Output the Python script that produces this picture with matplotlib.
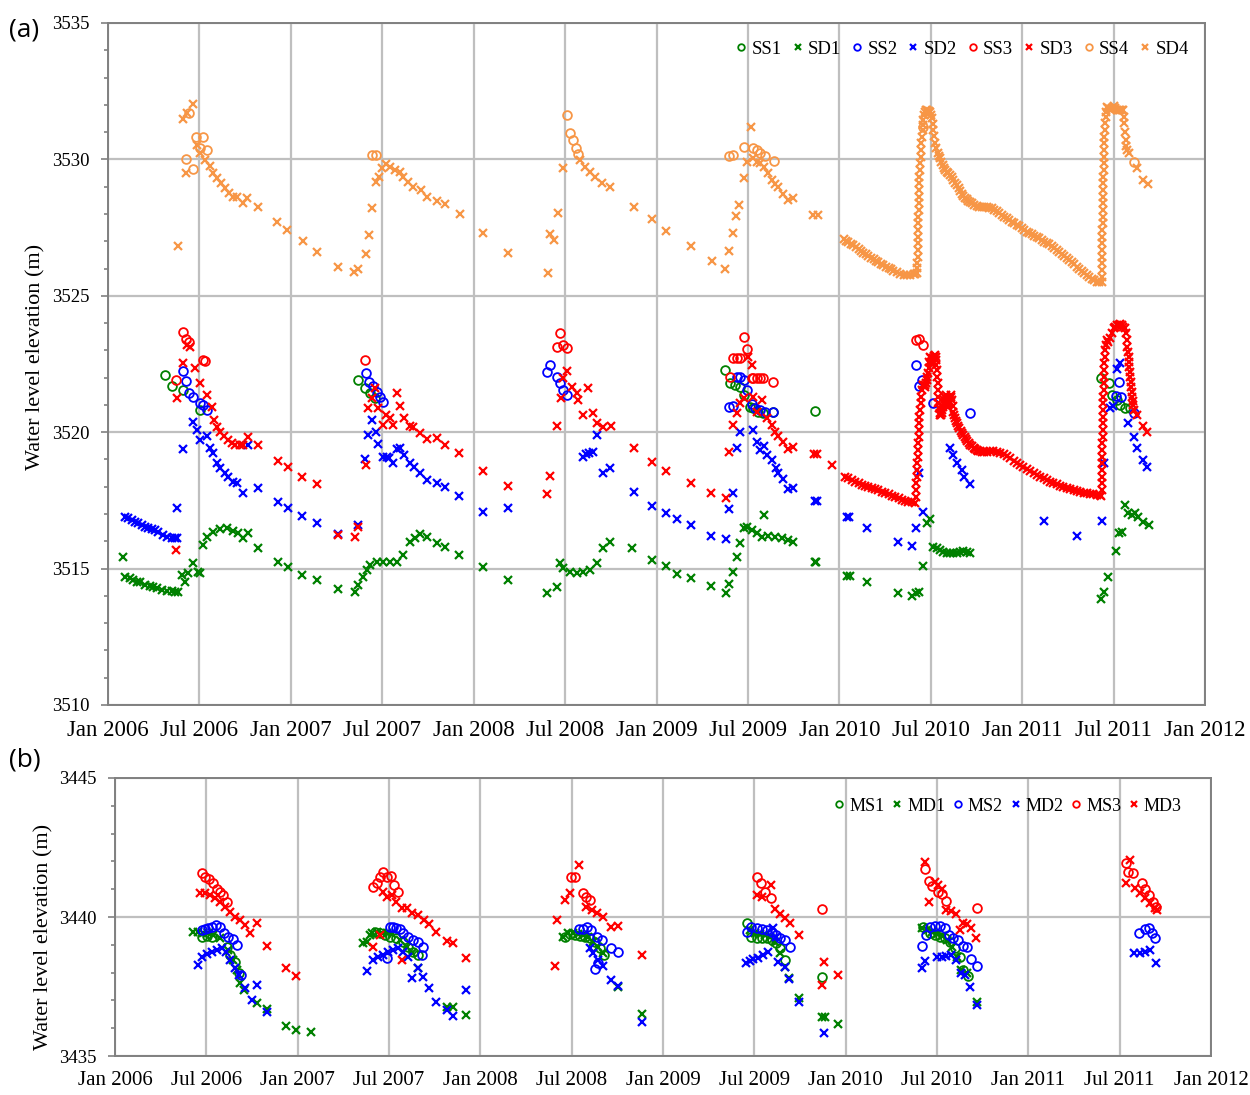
import numpy as np
import matplotlib.pyplot as plt
from matplotlib.ticker import MultipleLocator

# ---- panel (a): shallow (SS) and deep (SD) piezometers, time in decimal years ----
ss1_t = [2006.312, 2006.348, 2006.412, 2006.503, 2007.369, 2007.406, 2007.433, 2007.461,
         2009.375, 2009.403, 2009.430, 2009.457, 2009.476, 2009.512, 2009.530, 2009.557,
         2009.585, 2009.639, 2009.868, 2011.430, 2011.477, 2011.490, 2011.518, 2011.536,
         2011.563, 2011.591]
ss1_v = [3522.10, 3521.69, 3521.55, 3520.81, 3521.91, 3521.61, 3521.43, 3521.24,
         3522.28, 3521.79, 3521.73, 3521.67, 3521.36, 3520.93, 3520.88, 3520.75,
         3520.72, 3520.75, 3520.79, 3521.98, 3521.81, 3521.36, 3521.18, 3521.00,
         3520.88, 3520.88]

sd1_t = [2006.080, 2006.093, 2006.120, 2006.138, 2006.157, 2006.175, 2006.202, 2006.230,
         2006.248, 2006.266, 2006.294, 2006.321, 2006.348, 2006.367, 2006.385,
         2006.404, 2006.422, 2006.440, 2006.467, 2006.494, 2006.503, 2006.521, 2006.540,
         2006.576, 2006.613, 2006.649, 2006.685, 2006.713, 2006.740, 2006.768, 2006.822,
         2006.932, 2006.986, 2007.060, 2007.142, 2007.256, 2007.351, 2007.369, 2007.397,
         2007.415, 2007.433, 2007.470, 2007.506, 2007.543, 2007.579, 2007.615, 2007.652,
         2007.680, 2007.707, 2007.743, 2007.798, 2007.844, 2007.922, 2008.050, 2008.190,
         2008.400, 2008.455, 2008.473, 2008.491, 2008.527, 2008.564, 2008.600, 2008.637,
         2008.673, 2008.710, 2008.746, 2008.865, 2008.974, 2009.051, 2009.111, 2009.189,
         2009.299, 2009.379, 2009.399, 2009.421, 2009.443, 2009.457, 2009.476, 2009.494,
         2009.521, 2009.549, 2009.576, 2009.590, 2009.612, 2009.649, 2009.685, 2009.721,
         2009.745, 2009.868, 2009.874, 2010.041, 2010.059, 2010.154, 2010.320, 2010.396,
         2010.420, 2010.438, 2010.460, 2010.479, 2010.497, 2010.515, 2010.533, 2010.551,
         2010.569, 2010.588, 2010.606, 2010.624, 2010.642, 2010.661, 2010.679, 2010.697,
         2010.716, 2011.432, 2011.449, 2011.472, 2011.514, 2011.532, 2011.545, 2011.563,
         2011.581, 2011.600, 2011.618, 2011.636, 2011.663, 2011.691]
sd1_v = [3515.44, 3514.70, 3514.65, 3514.58, 3514.52, 3514.49, 3514.41, 3514.35,
         3514.33, 3514.30, 3514.23, 3514.17, 3514.16, 3514.15, 3514.14,
         3514.77, 3514.52, 3514.83, 3515.19, 3514.89, 3514.83, 3515.87, 3516.17,
         3516.35, 3516.44, 3516.48, 3516.39, 3516.30, 3516.11, 3516.32, 3515.74,
         3515.25, 3515.07, 3514.77, 3514.58, 3514.24, 3514.15, 3514.40, 3514.70,
         3514.95, 3515.13, 3515.25, 3515.25, 3515.24, 3515.24, 3515.50, 3515.99,
         3516.11, 3516.27, 3516.15, 3515.93, 3515.80, 3515.50, 3515.07, 3514.58,
         3514.12, 3514.31, 3515.19, 3515.01, 3514.89, 3514.85, 3514.89, 3514.95,
         3515.19, 3515.74, 3515.99, 3515.74, 3515.32, 3515.10, 3514.80, 3514.64,
         3514.36, 3514.09, 3514.44, 3514.89, 3515.44, 3515.95, 3516.48, 3516.54,
         3516.41, 3516.29, 3516.17, 3516.96, 3516.20, 3516.17, 3516.11, 3516.05,
         3515.99, 3515.25, 3515.25, 3514.74, 3514.73, 3514.52, 3514.09, 3514.01,
         3514.09, 3514.15, 3515.11, 3516.68, 3516.81, 3515.80, 3515.74, 3515.68,
         3515.62, 3515.58, 3515.58, 3515.58, 3515.58, 3515.62, 3515.66, 3515.62,
         3515.58, 3513.89, 3514.15, 3514.70, 3515.66, 3516.29, 3516.35, 3517.33,
         3517.03, 3516.96, 3517.03, 3516.90, 3516.72, 3516.60]

ss2_t = [2006.409, 2006.427, 2006.445, 2006.467, 2006.503, 2006.521, 2006.543,
         2007.411, 2007.429, 2007.448, 2007.470, 2007.488, 2007.506,
         2008.403, 2008.418, 2008.455, 2008.473, 2008.491, 2008.513,
         2009.399, 2009.417, 2009.439, 2009.457, 2009.476, 2009.494, 2009.521, 2009.540,
         2009.567, 2009.594, 2009.639,
         2010.420, 2010.433, 2010.451, 2010.511, 2010.716,
         2011.514, 2011.532, 2011.540, 2011.609]
ss2_v = [3522.26, 3521.89, 3521.43, 3521.28, 3521.06, 3521.00, 3520.81,
         3522.16, 3521.85, 3521.69, 3521.48, 3521.30, 3521.12,
         3522.22, 3522.46, 3522.03, 3521.79, 3521.55, 3521.36,
         3520.93, 3520.96, 3522.03, 3522.01, 3521.91, 3521.55, 3521.03, 3520.88,
         3520.81, 3520.75, 3520.75,
         3522.46, 3521.69, 3521.91, 3521.08, 3520.72,
         3521.33, 3521.85, 3521.28, 3520.69]

sd2_t = [2006.093, 2006.111, 2006.130, 2006.148, 2006.166, 2006.184, 2006.202, 2006.221,
         2006.239, 2006.257, 2006.275, 2006.303, 2006.321, 2006.348, 2006.367, 2006.376,
         2006.379, 2006.409, 2006.467, 2006.485, 2006.503, 2006.540, 2006.558, 2006.576,
         2006.595, 2006.613, 2006.640, 2006.658, 2006.685, 2006.704, 2006.737, 2006.768,
         2006.822, 2006.932, 2006.986, 2007.060, 2007.142, 2007.256, 2007.366,
         2007.406, 2007.424, 2007.443, 2007.466, 2007.479, 2007.503, 2007.525, 2007.539,
         2007.561, 2007.579, 2007.597, 2007.619, 2007.652, 2007.674, 2007.707, 2007.747,
         2007.801, 2007.844, 2007.922, 2008.050, 2008.190,
         2008.597, 2008.615, 2008.633, 2008.651, 2008.673, 2008.710, 2008.746, 2008.877,
         2008.974, 2009.051, 2009.111, 2009.189, 2009.299, 2009.379, 2009.399, 2009.421,
         2009.439, 2009.457, 2009.530, 2009.549, 2009.567, 2009.590, 2009.603, 2009.630,
         2009.654, 2009.667, 2009.694, 2009.721, 2009.745, 2009.868, 2009.880, 2010.041,
         2010.055, 2010.154, 2010.320, 2010.396, 2010.420, 2010.433, 2010.460, 2010.606,
         2010.624, 2010.642, 2010.670, 2010.683, 2010.716, 2011.122, 2011.299, 2011.436,
         2011.445, 2011.481, 2011.496, 2011.518, 2011.536, 2011.581, 2011.613, 2011.627,
         2011.663, 2011.685]
sd2_v = [3516.90, 3516.84, 3516.78, 3516.72, 3516.66, 3516.60, 3516.53, 3516.47,
         3516.45, 3516.42, 3516.33, 3516.23, 3516.17, 3516.11, 3516.11, 3516.11,
         3517.21, 3519.37, 3520.39, 3520.08, 3519.71, 3519.87, 3519.41, 3519.23,
         3518.86, 3518.68, 3518.49, 3518.37, 3518.19, 3518.13, 3517.78, 3519.53,
         3517.94, 3517.45, 3517.21, 3516.93, 3516.66, 3516.27, 3516.60,
         3519.01, 3519.90, 3520.45, 3520.02, 3519.57, 3519.10, 3519.10, 3519.04,
         3518.86, 3519.37, 3519.41, 3519.16, 3518.86, 3518.74, 3518.49, 3518.25,
         3518.15, 3518.00, 3517.66, 3517.09, 3517.21,
         3519.10, 3519.20, 3519.25, 3519.29, 3519.90, 3518.52, 3518.68, 3517.82,
         3517.29, 3517.03, 3516.81, 3516.60, 3516.21, 3516.07, 3517.17, 3517.76,
         3519.41, 3520.02, 3520.08, 3519.65, 3519.35, 3519.49, 3519.16, 3518.98,
         3518.68, 3518.49, 3518.27, 3517.91, 3517.94, 3517.49, 3517.49, 3516.90,
         3516.88, 3516.50, 3515.96, 3515.83, 3516.47, 3518.49, 3517.06, 3519.41,
         3519.16, 3518.88, 3518.61, 3518.37, 3518.10, 3516.75, 3516.20, 3516.75,
         3518.86, 3520.88, 3520.96, 3522.31, 3522.53, 3520.33, 3519.81, 3519.41,
         3518.98, 3518.71]

ss3_t = [2006.372, 2006.409, 2006.427, 2006.445, 2006.521, 2006.530, 2007.406,
         2008.455, 2008.473, 2008.491, 2008.513,
         2009.403, 2009.421, 2009.439, 2009.457, 2009.479, 2009.494, 2009.521, 2009.530,
         2009.549, 2009.567, 2009.585, 2009.639, 2010.420, 2010.438, 2010.460]
ss3_v = [3521.91, 3523.68, 3523.41, 3523.32, 3522.65, 3522.61, 3522.65,
         3523.13, 3523.63, 3523.20, 3523.08,
         3522.03, 3522.71, 3522.73, 3522.73, 3523.48, 3523.05, 3521.98, 3521.98,
         3521.98, 3521.98, 3521.98, 3521.85, 3523.38, 3523.41, 3523.20]

# manual SD3 readings
sd3_t = [2006.372, 2006.376, 2006.409, 2006.434, 2006.449, 2006.476, 2006.503, 2006.543,
         2006.567, 2006.580, 2006.595, 2006.613, 2006.635, 2006.658, 2006.677, 2006.695,
         2006.722, 2006.740, 2006.768, 2006.822, 2006.932, 2006.986, 2007.060, 2007.142,
         2007.256, 2007.351, 2007.369, 2007.411, 2007.424, 2007.443, 2007.461, 2007.479,
         2007.503, 2007.521, 2007.543, 2007.561, 2007.579, 2007.597, 2007.619, 2007.652,
         2007.670, 2007.707, 2007.747, 2007.801, 2007.844, 2007.922, 2008.050, 2008.190,
         2008.403, 2008.418, 2008.458, 2008.477, 2008.491, 2008.513, 2008.537, 2008.564,
         2008.573, 2008.600, 2008.628, 2008.655, 2008.673, 2008.710, 2008.750, 2008.877,
         2008.974, 2009.051, 2009.189, 2009.299, 2009.379, 2009.399, 2009.417, 2009.439,
         2009.457, 2009.476, 2009.500, 2009.521, 2009.530, 2009.552, 2009.576, 2009.603,
         2009.630, 2009.649, 2009.667, 2009.694, 2009.721, 2009.745, 2009.862, 2009.880,
         2009.959, 2011.627, 2011.663, 2011.685]
sd3_v = [3515.68, 3521.24, 3522.53, 3523.20, 3523.14, 3522.34, 3521.81, 3521.36,
         3520.93, 3520.45, 3520.20, 3520.02, 3519.86, 3519.71, 3519.59, 3519.53,
         3519.53, 3519.53, 3519.81, 3519.53, 3518.94, 3518.71, 3518.37, 3518.10,
         3516.23, 3516.17, 3516.54, 3518.80, 3520.88, 3521.24, 3521.61, 3520.88,
         3520.26, 3520.63, 3520.51, 3520.26, 3521.45, 3520.96, 3520.51, 3520.23,
         3520.18, 3519.96, 3519.74, 3519.77, 3519.53, 3519.23, 3518.58, 3518.03,
         3517.73, 3518.39, 3520.23, 3521.24, 3521.98, 3522.25, 3521.67, 3521.43,
         3521.18, 3520.63, 3521.61, 3520.69, 3520.35, 3520.20, 3520.23, 3519.41,
         3518.90, 3518.59, 3518.13, 3517.78, 3517.58, 3519.29, 3520.26, 3520.72,
         3521.06, 3521.24, 3522.74, 3522.46, 3521.30, 3520.75, 3521.18, 3520.51,
         3520.26, 3520.02, 3519.86, 3519.65, 3519.37, 3519.47, 3519.20, 3519.20,
         3518.80, 3520.63, 3520.23, 3520.02]

# SD3 data logger, 2010-2011
sd3_log_t = [2010.032, 2010.050, 2010.068, 2010.086, 2010.105, 2010.123, 2010.141, 2010.159,
             2010.178, 2010.196, 2010.214, 2010.232, 2010.251, 2010.269, 2010.287, 2010.305,
             2010.324, 2010.342, 2010.360, 2010.378, 2010.396, 2010.415,
             2010.418, 2010.420, 2010.422, 2010.424, 2010.426, 2010.427, 2010.428, 2010.429,
             2010.431, 2010.433, 2010.435, 2010.437, 2010.438, 2010.442, 2010.444, 2010.448,
             2010.451, 2010.457,
             2010.460, 2010.464, 2010.468, 2010.471, 2010.475, 2010.479, 2010.482, 2010.486,
             2010.490, 2010.493, 2010.497, 2010.500, 2010.504, 2010.508, 2010.511, 2010.515,
             2010.519, 2010.522, 2010.526, 2010.530, 2010.531, 2010.533, 2010.535, 2010.537,
             2010.539, 2010.541, 2010.542, 2010.544, 2010.548, 2010.552, 2010.555, 2010.559,
             2010.562, 2010.566, 2010.570, 2010.573, 2010.577, 2010.581, 2010.584, 2010.588,
             2010.592, 2010.595, 2010.599, 2010.603, 2010.606, 2010.610, 2010.613, 2010.617,
             2010.621, 2010.624, 2010.628, 2010.634, 2010.639, 2010.643, 2010.650, 2010.657,
             2010.665, 2010.672, 2010.679, 2010.686, 2010.694, 2010.701, 2010.708, 2010.716,
             2010.725, 2010.734, 2010.743, 2010.752, 2010.761, 2010.770, 2010.779, 2010.789,
             2010.807, 2010.825, 2010.843, 2010.861, 2010.880, 2010.898, 2010.916, 2010.934,
             2010.953, 2010.971, 2010.989, 2011.007, 2011.026, 2011.044, 2011.062, 2011.080,
             2011.098, 2011.117, 2011.135, 2011.153, 2011.171, 2011.190, 2011.208, 2011.226,
             2011.244, 2011.263, 2011.281, 2011.299, 2011.317, 2011.336, 2011.354, 2011.372,
             2011.390, 2011.409, 2011.427, 2011.433,
             2011.436, 2011.436, 2011.437, 2011.437, 2011.438, 2011.438, 2011.439, 2011.439,
             2011.440, 2011.440, 2011.441, 2011.441, 2011.442, 2011.443, 2011.444, 2011.445,
             2011.446, 2011.447, 2011.448, 2011.450, 2011.452, 2011.454, 2011.456,
             2011.463, 2011.472, 2011.481, 2011.491, 2011.500, 2011.509, 2011.518, 2011.527,
             2011.536, 2011.545, 2011.554, 2011.564, 2011.569, 2011.573, 2011.576, 2011.580,
             2011.582, 2011.585, 2011.587, 2011.589, 2011.591, 2011.594, 2011.596, 2011.600,
             2011.602, 2011.605, 2011.607, 2011.613]
sd3_log_v = [3518.37, 3518.31, 3518.25, 3518.19, 3518.13, 3518.08, 3518.03, 3517.98,
             3517.94, 3517.90, 3517.87, 3517.82, 3517.77, 3517.72, 3517.67, 3517.63,
             3517.58, 3517.53, 3517.48, 3517.44, 3517.43, 3517.42,
             3517.64, 3517.88, 3518.13, 3518.37, 3518.61, 3518.86, 3519.10, 3519.35,
             3519.59, 3519.84, 3520.08, 3520.32, 3520.57, 3520.81, 3521.06, 3521.30,
             3521.55, 3521.73,
             3521.73, 3521.69, 3521.67, 3521.72, 3521.79, 3521.91, 3522.04, 3522.18,
             3522.34, 3522.59, 3522.77, 3522.71, 3522.59, 3522.52, 3522.62, 3522.71,
             3522.79, 3522.83, 3522.74, 3522.65, 3522.46, 3522.28, 3522.04, 3521.79,
             3521.55, 3521.30, 3521.08, 3520.88, 3520.72, 3520.63, 3520.64, 3520.69,
             3520.81, 3520.94, 3521.06, 3521.18, 3521.28, 3521.36, 3521.20, 3521.06,
             3520.99, 3520.94, 3521.03, 3521.12, 3521.24, 3521.36, 3521.28, 3521.18,
             3520.96, 3520.75, 3520.63, 3520.51, 3520.40, 3520.32, 3520.23, 3520.14,
             3520.06, 3519.96, 3519.89, 3519.81, 3519.74, 3519.66, 3519.60, 3519.54,
             3519.48, 3519.43, 3519.38, 3519.35, 3519.32, 3519.30, 3519.29, 3519.29,
             3519.29, 3519.30, 3519.31, 3519.29, 3519.25, 3519.20, 3519.13, 3519.04,
             3518.96, 3518.87, 3518.79, 3518.71, 3518.64, 3518.58, 3518.52, 3518.44,
             3518.37, 3518.31, 3518.25, 3518.19, 3518.14, 3518.09, 3518.04, 3518.00,
             3517.95, 3517.90, 3517.87, 3517.83, 3517.81, 3517.78, 3517.76, 3517.75,
             3517.72, 3517.70, 3517.69, 3517.66,
             3517.88, 3518.13, 3518.37, 3518.61, 3518.86, 3519.10, 3519.35, 3519.59,
             3519.84, 3520.08, 3520.32, 3520.57, 3520.81, 3521.06, 3521.30, 3521.55,
             3521.79, 3522.04, 3522.28, 3522.52, 3522.77, 3523.01, 3523.20,
             3523.38, 3523.32, 3523.44, 3523.62, 3523.81, 3523.87, 3523.93, 3523.93,
             3523.97, 3523.93, 3523.87, 3523.81, 3523.62, 3523.38, 3523.14, 3522.95,
             3522.77, 3522.59, 3522.40, 3522.22, 3522.04, 3521.85, 3521.67, 3521.49,
             3521.30, 3521.15, 3520.99, 3520.81]

ss4_t = [2006.427, 2006.445, 2006.467, 2006.481, 2006.503, 2006.521, 2006.543,
         2007.442, 2007.466, 2008.511, 2008.527, 2008.544, 2008.560, 2008.571,
         2009.394, 2009.421, 2009.476, 2009.526, 2009.549, 2009.567, 2009.594, 2009.644,
         2010.456, 2011.609]
ss4_v = [3530.00, 3531.71, 3529.64, 3530.81, 3530.40, 3530.83, 3530.34,
         3530.16, 3530.16, 3531.63, 3530.97, 3530.71, 3530.42, 3530.20,
         3530.12, 3530.16, 3530.44, 3530.40, 3530.34, 3530.22, 3530.12, 3529.95,
         3531.19, 3529.92]

sd4_t = [2006.381, 2006.409, 2006.427, 2006.434, 2006.467, 2006.485, 2006.503, 2006.531,
         2006.558, 2006.573, 2006.595, 2006.617, 2006.640, 2006.664, 2006.685, 2006.707,
         2006.737, 2006.762, 2006.822, 2006.926, 2006.978, 2007.065, 2007.142, 2007.256,
         2007.346, 2007.369, 2007.409, 2007.428, 2007.446, 2007.466, 2007.484, 2007.497,
         2007.521, 2007.543, 2007.570, 2007.597, 2007.615, 2007.643, 2007.670, 2007.710,
         2007.743, 2007.801, 2007.844, 2007.926, 2008.050, 2008.188,
         2008.407, 2008.418, 2008.440, 2008.462, 2008.489, 2008.582, 2008.609, 2008.637,
         2008.664, 2008.702, 2008.746, 2008.877, 2008.976, 2009.053, 2009.190,
         2009.302, 2009.375, 2009.399, 2009.421, 2009.435, 2009.453, 2009.479, 2009.494,
         2009.516, 2009.530, 2009.549, 2009.567, 2009.589, 2009.612, 2009.630, 2009.649,
         2009.667, 2009.694, 2009.721, 2009.749, 2009.858, 2009.886,
         2011.627, 2011.663, 2011.690]
sd4_v = [3526.84, 3531.47, 3529.49, 3531.69, 3532.03, 3530.53, 3530.22, 3529.98,
         3529.76, 3529.51, 3529.30, 3529.12, 3528.94, 3528.78, 3528.63, 3528.61,
         3528.41, 3528.57, 3528.27, 3527.72, 3527.41, 3527.01, 3526.62, 3526.04,
         3525.88, 3525.97, 3526.53, 3527.23, 3528.21, 3529.18, 3529.37, 3529.67,
         3529.83, 3529.71, 3529.61, 3529.55, 3529.37, 3529.18, 3528.98, 3528.88,
         3528.63, 3528.49, 3528.37, 3528.00, 3527.30, 3526.57,
         3525.84, 3527.27, 3527.05, 3528.03, 3529.68, 3529.98, 3529.72, 3529.54,
         3529.35, 3529.13, 3528.99, 3528.26, 3527.82, 3527.38, 3526.83,
         3526.28, 3525.98, 3526.65, 3527.31, 3527.94, 3528.33, 3529.33, 3529.92,
         3531.20, 3530.04, 3529.92, 3529.86, 3529.73, 3529.49, 3529.25, 3529.10,
         3529.00, 3528.73, 3528.51, 3528.57, 3527.96, 3527.96,
         3529.67, 3529.25, 3529.10]

# SD4 data logger, 2010-2011
sd4_log_t = [2010.023, 2010.036, 2010.050, 2010.064, 2010.077, 2010.091, 2010.105, 2010.118,
             2010.132, 2010.146, 2010.159, 2010.173, 2010.187, 2010.200, 2010.214, 2010.228,
             2010.241, 2010.255, 2010.269, 2010.282, 2010.296, 2010.314, 2010.333, 2010.351,
             2010.369, 2010.388, 2010.406, 2010.416, 2010.427,
             2010.427, 2010.427, 2010.428, 2010.429, 2010.429, 2010.430, 2010.431, 2010.431,
             2010.432, 2010.433, 2010.434, 2010.435, 2010.436, 2010.437, 2010.438, 2010.440,
             2010.442, 2010.444, 2010.446, 2010.449, 2010.451, 2010.455, 2010.457, 2010.460,
             2010.465, 2010.469, 2010.476, 2010.482, 2010.490, 2010.497, 2010.502, 2010.506,
             2010.511, 2010.515, 2010.520, 2010.524, 2010.530, 2010.537, 2010.544, 2010.551,
             2010.558, 2010.566, 2010.572, 2010.579, 2010.588, 2010.597, 2010.606, 2010.615,
             2010.624, 2010.633, 2010.643, 2010.652, 2010.661, 2010.670, 2010.679, 2010.688,
             2010.697, 2010.706, 2010.716, 2010.725, 2010.738, 2010.752, 2010.766, 2010.779,
             2010.793, 2010.807, 2010.820, 2010.834, 2010.848, 2010.861, 2010.875, 2010.889,
             2010.902, 2010.916, 2010.930, 2010.943, 2010.957, 2010.971, 2010.984, 2010.998,
             2011.012, 2011.026, 2011.039, 2011.053, 2011.067, 2011.080, 2011.094, 2011.108,
             2011.121, 2011.135, 2011.149, 2011.162, 2011.176, 2011.190, 2011.203, 2011.217,
             2011.231, 2011.244, 2011.258, 2011.272, 2011.285, 2011.299, 2011.313, 2011.326,
             2011.340, 2011.354, 2011.367, 2011.381, 2011.395, 2011.408, 2011.422, 2011.434,
             2011.436, 2011.436, 2011.437, 2011.437, 2011.438, 2011.438, 2011.439, 2011.439,
             2011.440, 2011.440, 2011.441, 2011.441, 2011.442, 2011.442, 2011.443, 2011.444,
             2011.445, 2011.446, 2011.447, 2011.448, 2011.449, 2011.450, 2011.452, 2011.454,
             2011.456, 2011.459, 2011.463, 2011.467, 2011.472, 2011.478, 2011.485, 2011.492,
             2011.500, 2011.509, 2011.518, 2011.527, 2011.536, 2011.544, 2011.551, 2011.555,
             2011.558, 2011.562, 2011.566, 2011.569, 2011.575, 2011.582]
sd4_log_v = [3527.07, 3527.01, 3526.96, 3526.91, 3526.86, 3526.79, 3526.72, 3526.65,
             3526.58, 3526.52, 3526.46, 3526.40, 3526.34, 3526.28, 3526.23, 3526.18,
             3526.13, 3526.07, 3526.02, 3525.97, 3525.92, 3525.86, 3525.80, 3525.78,
             3525.76, 3525.77, 3525.79, 3525.80, 3525.82,
             3526.01, 3526.19, 3526.43, 3526.68, 3526.92, 3527.17, 3527.41, 3527.66,
             3527.90, 3528.14, 3528.39, 3528.63, 3528.88, 3529.12, 3529.37, 3529.61,
             3529.86, 3530.10, 3530.34, 3530.59, 3530.83, 3531.08, 3531.26, 3531.45,
             3531.62, 3531.75, 3531.80, 3531.81, 3531.79, 3531.75, 3531.64, 3531.51,
             3531.30, 3531.08, 3530.84, 3530.59, 3530.40, 3530.22, 3530.13, 3530.04,
             3529.92, 3529.79, 3529.70, 3529.61, 3529.55, 3529.49, 3529.42, 3529.34,
             3529.25, 3529.15, 3529.05, 3528.94, 3528.84, 3528.73, 3528.65, 3528.57,
             3528.53, 3528.49, 3528.44, 3528.39, 3528.34, 3528.29, 3528.26, 3528.24,
             3528.24, 3528.24, 3528.22, 3528.21, 3528.15, 3528.09, 3528.02, 3527.96,
             3527.90, 3527.84, 3527.78, 3527.72, 3527.66, 3527.60, 3527.54, 3527.47,
             3527.41, 3527.35, 3527.30, 3527.25, 3527.20, 3527.14, 3527.10, 3527.05,
             3526.98, 3526.92, 3526.88, 3526.83, 3526.76, 3526.68, 3526.61, 3526.53,
             3526.45, 3526.37, 3526.30, 3526.23, 3526.15, 3526.07, 3526.00, 3525.92,
             3525.84, 3525.76, 3525.69, 3525.62, 3525.57, 3525.52, 3525.50, 3525.49,
             3525.70, 3525.95, 3526.19, 3526.43, 3526.68, 3526.92, 3527.17, 3527.41,
             3527.66, 3527.90, 3528.14, 3528.39, 3528.63, 3528.88, 3529.12, 3529.37,
             3529.61, 3529.86, 3530.10, 3530.34, 3530.59, 3530.83, 3531.08, 3531.32,
             3531.57, 3531.75, 3531.93, 3531.90, 3531.87, 3531.84, 3531.81, 3531.88,
             3531.96, 3531.88, 3531.81, 3531.81, 3531.81, 3531.81, 3531.81, 3531.57,
             3531.32, 3531.02, 3530.71, 3530.50, 3530.35, 3530.22]

# ---- panel (b): MS / MD wells ----
ms1_t = [2006.474, 2006.501, 2006.529, 2006.611, 2006.629, 2006.657, 2006.680,
         2007.423, 2007.450, 2007.478, 2007.505, 2007.541, 2007.578, 2007.605, 2007.633,
         2007.660,
         2008.463, 2008.490, 2008.518, 2008.545, 2008.572, 2008.600, 2008.627, 2008.655,
         2008.677,
         2009.460, 2009.484, 2009.512, 2009.540, 2009.567, 2009.594, 2009.618, 2009.640,
         2009.668, 2009.868,
         2010.424, 2010.461, 2010.488, 2010.516, 2010.543, 2010.570, 2010.598, 2010.625,
         2010.643, 2010.671]
ms1_v = [3439.29, 3439.32, 3439.29, 3438.93, 3438.63, 3438.39, 3437.97,
         3439.47, 3439.41, 3439.35, 3439.29, 3439.23, 3439.11, 3438.93, 3438.75,
         3438.63,
         3439.29, 3439.38, 3439.35, 3439.32, 3439.29, 3439.23, 3439.11, 3438.87,
         3438.63,
         3439.77, 3439.29, 3439.26, 3439.23, 3439.23, 3439.17, 3439.05, 3438.87,
         3438.45, 3437.85,
         3439.65, 3439.41, 3439.35, 3439.29, 3439.23, 3439.11, 3438.87, 3438.57,
         3438.09, 3437.88]

md1_t = [2006.429, 2006.456, 2006.484, 2006.511, 2006.538, 2006.575, 2006.620, 2006.648,
         2006.666, 2006.684, 2006.706, 2006.776, 2006.830, 2006.936, 2006.991, 2007.073,
         2007.359, 2007.378, 2007.396, 2007.405, 2007.432, 2007.460, 2007.487, 2007.514,
         2007.560, 2007.596, 2007.624, 2007.660, 2007.815, 2007.848, 2007.924,
         2008.454, 2008.481, 2008.508, 2008.536, 2008.563, 2008.590, 2008.618, 2008.645,
         2008.672, 2008.755, 2008.883,
         2009.476, 2009.503, 2009.530, 2009.558, 2009.585, 2009.612, 2009.640, 2009.668,
         2009.692, 2009.746, 2009.868, 2009.886, 2009.959,
         2010.420, 2010.447, 2010.474, 2010.502, 2010.529, 2010.556, 2010.584, 2010.611,
         2010.634, 2010.662, 2010.720]
md1_v = [3439.47, 3439.47, 3439.41, 3439.41, 3439.35, 3439.23, 3438.81, 3438.45,
         3438.09, 3437.61, 3437.37, 3436.92, 3436.68, 3436.08, 3435.94, 3435.87,
         3439.08, 3439.11, 3439.35, 3439.44, 3439.47, 3439.44, 3439.41, 3439.38,
         3439.17, 3438.93, 3438.69, 3438.15, 3436.77, 3436.77, 3436.47,
         3439.29, 3439.41, 3439.41, 3439.38, 3439.35, 3439.29, 3439.11, 3438.93,
         3438.69, 3437.49, 3436.51,
         3439.53, 3439.41, 3439.38, 3439.35, 3439.29, 3439.11, 3438.69, 3438.21,
         3437.79, 3437.07, 3436.41, 3436.41, 3436.15,
         3439.59, 3439.53, 3439.47, 3439.38, 3439.32, 3439.17, 3438.93, 3438.57,
         3438.09, 3437.97, 3436.95]

ms2_t = [2006.474, 2006.493, 2006.511, 2006.529, 2006.553, 2006.575, 2006.597, 2006.620,
         2006.644, 2006.666, 2006.688,
         2007.487, 2007.505, 2007.523, 2007.541, 2007.560, 2007.578, 2007.605, 2007.633,
         2007.660, 2007.687, 2007.678,
         2008.541, 2008.563, 2008.585, 2008.604, 2008.627, 2008.636, 2008.645, 2008.664,
         2008.718, 2008.755,
         2009.460, 2009.484, 2009.512, 2009.540, 2009.567, 2009.594, 2009.618, 2009.640,
         2009.668, 2009.695,
         2010.420, 2010.438, 2010.461, 2010.488, 2010.516, 2010.543, 2010.566, 2010.588,
         2010.616, 2010.643, 2010.662, 2010.684, 2010.720,
         2011.606, 2011.637, 2011.661, 2011.679, 2011.692]
ms2_v = [3439.53, 3439.56, 3439.59, 3439.65, 3439.71, 3439.63, 3439.41, 3439.29,
         3439.20, 3438.99, 3437.91,
         3438.51, 3439.63, 3439.65, 3439.59, 3439.56, 3439.41, 3439.29, 3439.17,
         3439.11, 3438.93, 3438.63,
         3439.56, 3439.56, 3439.63, 3439.53, 3438.12, 3439.29, 3438.36, 3439.17,
         3438.87, 3438.75,
         3439.47, 3439.63, 3439.59, 3439.56, 3439.53, 3439.47, 3439.35, 3439.23,
         3439.17, 3438.91,
         3438.96, 3439.35, 3439.63, 3439.68, 3439.68, 3439.59, 3439.35, 3439.23,
         3439.17, 3438.96, 3438.93, 3438.48, 3438.24,
         3439.41, 3439.56, 3439.59, 3439.41, 3439.23]

md2_t = [2006.456, 2006.474, 2006.502, 2006.529, 2006.557, 2006.584, 2006.607, 2006.629,
         2006.657, 2006.680, 2006.712, 2006.748, 2006.776, 2006.830,
         2007.378, 2007.414, 2007.441, 2007.469, 2007.496, 2007.523, 2007.551, 2007.578,
         2007.605, 2007.624, 2007.660, 2007.684, 2007.720, 2007.757, 2007.815, 2007.852,
         2007.924,
         2008.600, 2008.618, 2008.645, 2008.672, 2008.718, 2008.755, 2008.883,
         2009.457, 2009.475, 2009.493, 2009.521, 2009.548, 2009.575, 2009.600, 2009.618,
         2009.631, 2009.668, 2009.692, 2009.746, 2009.880,
         2010.420, 2010.434, 2010.500, 2010.529, 2010.552, 2010.574, 2010.603, 2010.634,
         2010.653, 2010.680, 2010.720,
         2011.577, 2011.610, 2011.637, 2011.665, 2011.698]
md2_v = [3438.27, 3438.57, 3438.66, 3438.75, 3438.81, 3438.87, 3438.75, 3438.45,
         3438.15, 3437.91, 3437.43, 3437.01, 3437.55, 3436.60,
         3438.07, 3438.45, 3438.57, 3438.63, 3438.75, 3438.81, 3438.87, 3438.75,
         3438.57, 3437.79, 3438.15, 3437.85, 3437.43, 3436.95, 3436.65, 3436.44,
         3437.37,
         3438.87, 3438.69, 3438.45, 3438.24, 3437.73, 3437.52, 3436.23,
         3438.36, 3438.42, 3438.48, 3438.54, 3438.63, 3438.75, 3439.59, 3439.27,
         3438.39, 3438.21, 3437.76, 3436.95, 3435.84,
         3438.15, 3438.43, 3438.55, 3438.57, 3438.60, 3438.63, 3438.45, 3437.97,
         3437.91, 3437.49, 3436.83,
         3438.69, 3438.72, 3438.75, 3438.81, 3438.33]

ms3_t = [2006.474, 2006.493, 2006.516, 2006.538, 2006.557, 2006.575, 2006.593, 2006.611,
         2007.414, 2007.432, 2007.450, 2007.469, 2007.490, 2007.509, 2007.527, 2007.551,
         2008.499, 2008.518, 2008.563, 2008.581, 2008.600,
         2009.516, 2009.534, 2009.558, 2009.589, 2009.868,
         2010.434, 2010.457, 2010.475, 2010.506, 2010.530, 2010.548, 2010.720,
         2011.537, 2011.546, 2011.573, 2011.620, 2011.637, 2011.661, 2011.683, 2011.701]
ms3_v = [3441.59, 3441.45, 3441.36, 3441.23, 3441.00, 3440.91, 3440.79, 3440.55,
         3441.07, 3441.21, 3441.43, 3441.63, 3441.45, 3441.47, 3441.15, 3440.91,
         3441.43, 3441.43, 3440.85, 3440.73, 3440.61,
         3441.43, 3441.21, 3440.91, 3440.67, 3440.29,
         3441.72, 3441.31, 3441.12, 3440.91, 3440.83, 3440.59, 3440.34,
         3441.95, 3441.63, 3441.59, 3441.21, 3441.00, 3440.79, 3440.55, 3440.37]

md3_t = [2006.465, 2006.493, 2006.520, 2006.547, 2006.575, 2006.602, 2006.629, 2006.657,
         2006.684, 2006.712, 2006.739, 2006.776, 2006.830, 2006.936, 2006.991,
         2007.414, 2007.450, 2007.469, 2007.487, 2007.514, 2007.541, 2007.569, 2007.596,
         2007.624, 2007.660, 2007.691, 2007.720, 2007.757, 2007.815, 2007.848, 2007.924,
         2007.569,
         2008.408, 2008.421, 2008.463, 2008.490, 2008.541, 2008.578, 2008.609, 2008.636,
         2008.672, 2008.718, 2008.755, 2008.883,
         2009.516, 2009.540, 2009.589, 2009.613, 2009.640, 2009.668, 2009.695, 2009.746,
         2009.868, 2009.880, 2009.959,
         2010.434, 2010.457, 2010.488, 2010.506, 2010.530, 2010.552, 2010.579, 2010.603,
         2010.625, 2010.643, 2010.662, 2010.684, 2010.716,
         2011.537, 2011.555, 2011.582, 2011.610, 2011.637, 2011.665, 2011.692, 2011.705]
md3_v = [3440.85, 3440.85, 3440.79, 3440.67, 3440.55, 3440.37, 3440.19, 3440.01,
         3439.89, 3439.71, 3439.44, 3439.77, 3438.96, 3438.15, 3437.88,
         3438.93, 3439.35, 3440.91, 3440.73, 3440.79, 3440.55, 3440.31, 3440.31,
         3440.13, 3440.07, 3439.89, 3439.75, 3439.47, 3439.15, 3439.05, 3438.51,
         3438.45,
         3438.24, 3439.89, 3440.61, 3440.85, 3441.87, 3440.37, 3440.25, 3440.15,
         3439.99, 3439.63, 3439.68, 3438.63,
         3440.79, 3440.73, 3441.15, 3440.28, 3440.11, 3439.95, 3439.80, 3439.35,
         3437.55, 3438.39, 3437.91,
         3441.99, 3440.55, 3441.27, 3441.15, 3441.00, 3440.25, 3440.23, 3440.11,
         3439.53, 3439.80, 3439.75, 3439.59, 3439.23,
         3441.24, 3442.05, 3441.03, 3440.85, 3440.67, 3440.49, 3440.31, 3440.25]

tick_years = np.arange(2006.0, 2012.01, 0.5)
tick_labels = ['Jan 2006', 'Jul 2006', 'Jan 2007', 'Jul 2007', 'Jan 2008', 'Jul 2008',
               'Jan 2009', 'Jul 2009', 'Jan 2010', 'Jul 2010', 'Jan 2011', 'Jul 2011',
               'Jan 2012']

GREEN, BLUE, RED, ORANGE = '#008000', '#0000FF', '#FF0000', '#F79646'
SERIF = 'Liberation Serif'


def circ(ax, t, v, c, label=None):
    return ax.plot(t, v, ls='none', marker='o', ms=6.3, mfc='none', mec=c, mew=1.3,
                   label=label)[0]


def cross(ax, t, v, c, label=None):
    return ax.plot(t, v, ls='none', marker='x', ms=6.0, mec=c, mew=1.6, label=label)[0]


def style_axis(ax, ylo, yhi, xsize):
    ax.set_xlim(2006.0, 2012.0)
    ax.set_ylim(ylo, yhi)
    ax.set_xticks(tick_years)
    ax.set_xticklabels(tick_labels, fontsize=xsize, family=SERIF)
    ax.set_yticks(np.arange(ylo, yhi + 1, 5))
    ax.set_yticklabels([str(int(y)) for y in np.arange(ylo, yhi + 1, 5)],
                       fontsize=13.5, family=SERIF)
    ax.yaxis.set_minor_locator(MultipleLocator(1))
    ax.grid(True, which='major', color='#BFBFBF', lw=1.6)
    ax.set_axisbelow(True)
    ax.tick_params(axis='x', length=0, pad=11)
    ax.tick_params(axis='y', which='both', direction='out', color='#808080', width=1.2)
    ax.tick_params(axis='y', which='major', length=5, pad=8)
    ax.tick_params(axis='y', which='minor', length=3)
    for s in ax.spines.values():
        s.set_color('#808080')
        s.set_linewidth(1.4)
    ax.set_ylabel('Water level elevation (m)', fontsize=16, family=SERIF)


fig = plt.figure(figsize=(12.5, 10.95), dpi=100)
ax1 = fig.add_axes([0.0864, 0.3562, 0.8776, 0.6228])
ax2 = fig.add_axes([0.0920, 0.0356, 0.8768, 0.2539])

# panel (a)
h = []
h.append(circ(ax1, ss1_t, ss1_v, GREEN, 'SS1'))
h.append(cross(ax1, sd1_t, sd1_v, GREEN, 'SD1'))
h.append(circ(ax1, ss2_t, ss2_v, BLUE, 'SS2'))
h.append(cross(ax1, sd2_t, sd2_v, BLUE, 'SD2'))
h.append(circ(ax1, ss3_t, ss3_v, RED, 'SS3'))
h.append(cross(ax1, sd3_t, sd3_v, RED, 'SD3'))
cross(ax1, sd3_log_t, sd3_log_v, RED)
h.append(circ(ax1, ss4_t, ss4_v, ORANGE, 'SS4'))
h.append(cross(ax1, sd4_t, sd4_v, ORANGE, 'SD4'))
cross(ax1, sd4_log_t, sd4_log_v, ORANGE)
style_axis(ax1, 3510, 3535, 16.5)
ax1.yaxis.set_label_coords(-0.057, 0.51)

# panel (b)
g = []
g.append(circ(ax2, ms1_t, ms1_v, GREEN, 'MS1'))
g.append(cross(ax2, md1_t, md1_v, GREEN, 'MD1'))
g.append(circ(ax2, ms2_t, ms2_v, BLUE, 'MS2'))
g.append(cross(ax2, md2_t, md2_v, BLUE, 'MD2'))
g.append(circ(ax2, ms3_t, ms3_v, RED, 'MS3'))
g.append(cross(ax2, md3_t, md3_v, RED, 'MD3'))
style_axis(ax2, 3435, 3445, 15)
ax2.yaxis.set_label_coords(-0.056, 0.43)

leg_kw = dict(loc='upper right', frameon=False, handlelength=0.5, handletextpad=0.3,
              markerscale=0.75, borderaxespad=0.0)
ax1.legend(handles=h, ncol=8, bbox_to_anchor=(0.992, 0.985), columnspacing=0.6,
           prop={'family': SERIF, 'size': 13.5}, **leg_kw)
ax2.legend(handles=g, ncol=6, bbox_to_anchor=(0.98, 0.955), columnspacing=0.45,
           prop={'family': SERIF, 'size': 13}, **leg_kw)

fig.text(0.007, 0.967, '(a)', fontsize=19, family='Open Sans')
fig.text(0.007, 0.300, '(b)', fontsize=19, family='Open Sans')

fig.savefig('out.png', dpi=100)
